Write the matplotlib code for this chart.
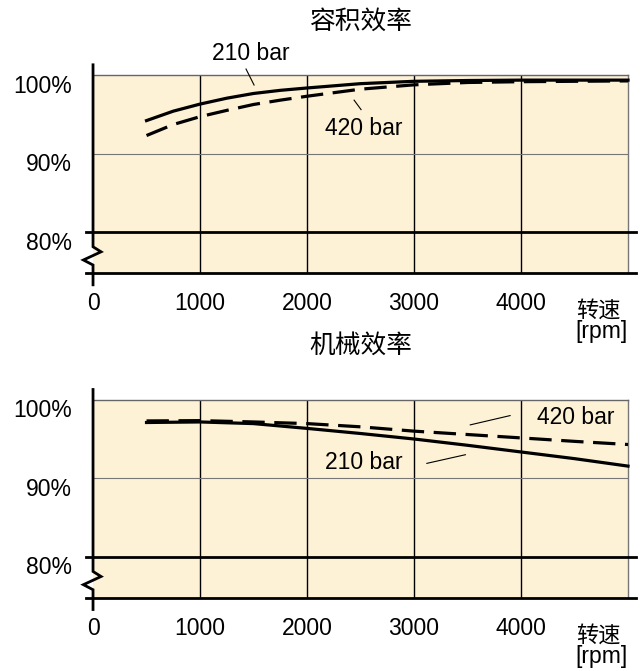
import numpy as np
import matplotlib
matplotlib.use('Agg')
import matplotlib.pyplot as plt
from matplotlib.transforms import ScaledTranslation

plt.rcParams['font.family'] = ['Liberation Sans', 'Noto Sans CJK SC']

# volumetric efficiency [%] vs speed [rpm]
rpm_vol = [500, 750, 1000, 1250, 1500, 1750, 2000, 2500, 3000, 3500, 4000, 4500, 5000]
vol_210 = [94.2, 95.4, 96.3, 97.05, 97.65, 98.05, 98.35, 98.9, 99.2, 99.3, 99.35, 99.35, 99.35]
vol_420 = [92.3, 93.7, 94.7, 95.5, 96.25, 96.8, 97.3, 98.2, 98.75, 99.05, 99.15, 99.2, 99.25]

# mechanical efficiency [%] vs speed [rpm]
rpm_mech = [500, 1000, 1500, 2000, 2500, 3000, 3500, 4000, 4500, 5000]
mech_210 = [97.1, 97.17, 96.96, 96.35, 95.7, 95.0, 94.2, 93.35, 92.5, 91.55]
mech_420 = [97.3, 97.34, 97.17, 96.96, 96.55, 96.0, 95.57, 95.14, 94.7, 94.3]

xticks = [0, 1000, 2000, 3000, 4000]
yticks = [80, 90, 100]
ytick_labels = ['80%', '90%', '100%']

bg = '#fdf1d6'
fs = 16.5
ybot = 74.8


def panel(ax, title, rpm, y210, y420, lab210, lab420):
    ax.set_facecolor(bg)
    for s in ax.spines.values():
        s.set_visible(False)
    ax.set_xlim(0, 5000)
    ax.set_ylim(ybot, 100)

    # grid
    for x in [1000, 2000, 3000, 4000]:
        ax.axvline(x, color='black', lw=1.0, zorder=1)
    ax.axvline(5000, color='#777777', lw=1.0, zorder=1, clip_on=False)
    ax.axhline(100, color='#666666', lw=1.0, zorder=1, clip_on=False)
    ax.axhline(90, color='#777777', lw=0.8, zorder=1)

    # thick 80% line and base line
    ax.plot([-65, 5075], [80, 80], color='black', lw=2.0, clip_on=False, zorder=3)
    ax.plot([-65, 5075], [ybot, ybot], color='black', lw=2.0, clip_on=False, zorder=3)

    # left axis with break mark
    ax.plot([0, 0, 75, -90, 0, 0], [101.3, 78.14, 77.5, 76.46, 75.82, 73.3],
            color='black', lw=2.0, clip_on=False, zorder=4, solid_joinstyle='miter')

    # curves
    ax.plot(rpm, y210, color='black', lw=2.3, zorder=5, clip_on=False,
            solid_joinstyle='round')
    ax.plot(rpm, y420, color='black', lw=2.3, dashes=(7, 3), zorder=5, clip_on=False)

    # annotations
    (tx, ty, lx, ly) = lab210
    ax.text(tx, ty, '210 bar', fontsize=fs, ha='center', va='center')
    ax.plot(lx, ly, color='black', lw=0.8, clip_on=False)
    (tx, ty, lx, ly) = lab420
    ax.text(tx, ty, '420 bar', fontsize=fs, ha='center', va='center')
    ax.plot(lx, ly, color='black', lw=0.8, clip_on=False)

    ax.set_xticks(xticks)
    ax.set_xticklabels([str(v) for v in xticks], fontsize=fs)
    ax.set_yticks(yticks)
    ax.set_yticklabels(ytick_labels, fontsize=fs)
    ax.tick_params(axis='x', length=0, pad=14)
    ax.tick_params(axis='y', length=0, pad=15)
    off = ScaledTranslation(0, -0.085, ax.figure.dpi_scale_trans)
    for lbl in ax.get_yticklabels():
        lbl.set_transform(lbl.get_transform() + off)

    ax.text(4720, 70.1, '转速', fontsize=16, ha='center', va='center',
            family=['Noto Sans CJK SC'])
    ax.text(4750, 67.3, '[rpm]', fontsize=fs, ha='center', va='center')
    ax.text(0.5, 1.27, title, transform=ax.transAxes, fontsize=18.5,
            ha='center', va='center', family=['Noto Sans CJK SC'], weight='medium')


fig = plt.figure(figsize=(6.42, 6.71), dpi=100)
ax1 = fig.add_axes([0.1449, 0.5931, 0.8333, 0.2951])
ax2 = fig.add_axes([0.1449, 0.1092, 0.8333, 0.2951])

panel(ax1, '容积效率', rpm_vol, vol_210, vol_420,
      (1477, 102.8, [1430, 1505], [100.76, 98.73]),
      (2533, 93.2, [2440, 2505], [96.8, 95.6]))
panel(ax2, '机械效率', rpm_mech, mech_210, mech_420,
      (2535, 92.0, [3120, 3480], [91.9, 93.0]),
      (4514, 97.7, [3526, 3898], [96.8, 97.98]))

fig.savefig('out.png', dpi=100)
